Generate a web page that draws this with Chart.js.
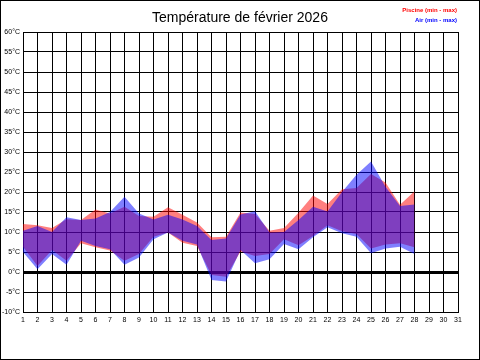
<!DOCTYPE html>
<html>
<head>
<meta charset="utf-8">
<script src="https://cdn.jsdelivr.net/npm/chart.js@4/dist/chart.umd.min.js"></script>
<style>
  body { margin: 0; background: #fff; }
  canvas { display: block; }
</style>
</head>
<body>
<canvas id="chart" width="480" height="360"></canvas>
<script>
const chartTitle = "Température de février 2026";
const poolLabel = "Piscine (min - max)";
const airLabel = "Air (min - max)";

const days = [1, 2, 3, 4, 5, 6, 7, 8, 9, 10, 11, 12, 13, 14, 15, 16, 17, 18, 19, 20, 21, 22, 23, 24, 25, 26, 27, 28];
const poolMax = [12, 11.7, 11, 13.2, 13, 15.6, 14.6, 16.3, 14, 13.8, 16.2, 14.3, 12.4, 8.7, 8.8, 14.9, 14.5, 10.3, 11, 14.8, 19.1, 17, 20.7, 21, 24.5, 22.4, 16.8, 20.2];
const poolMin = [6.3, 1.5, 5.5, 2.8, 7.2, 6.2, 5.4, 2.8, 4.5, 8.8, 9.9, 7.3, 6.5, -0.75, -1.2, 5.1, 4, 4.5, 8.2, 6.7, 9, 11.7, 10.2, 9.5, 5.9, 6.9, 7.2, 6.2];
const airMax = [10.3, 11.5, 10, 13.7, 13, 13.4, 15, 18.8, 14.6, 13.1, 14.3, 13.1, 11.5, 8, 8.4, 14.4, 15.2, 9.9, 10, 13, 16.3, 15.1, 20, 24.3, 27.6, 21.3, 16.5, 16.9];
const airMin = [5, 0.7, 4.5, 1.8, 7.8, 6.5, 5.7, 1.8, 3.6, 8.2, 9.9, 7.8, 6.9, -2, -2.4, 5.5, 2.2, 3.2, 7, 5.7, 8.7, 11.2, 9.7, 8.8, 4.7, 5.9, 6.3, 4.5];

const xMin = 1, xMax = 31;
const yMin = -10, yMax = 60, yStep = 5;

function points(values) {
  return days.map((d, i) => ({ x: d, y: values[i] }));
}

const decor = {
  id: "decor",
  afterDraw(chart) {
    const ctx = chart.ctx;
    ctx.save();
    ctx.fillStyle = "#000";
    ctx.font = '14px "Liberation Sans", Arial, sans-serif';
    ctx.textAlign = "center";
    ctx.textBaseline = "middle";
    ctx.fillText(chartTitle, 240, 18);

    ctx.font = 'bold 6px "Liberation Sans", Arial, sans-serif';
    ctx.textAlign = "right";
    ctx.fillStyle = "#ff0000";
    ctx.fillText(poolLabel, 457, 10);
    ctx.fillStyle = "#0000ff";
    ctx.fillText(airLabel, 457, 20);

    ctx.strokeStyle = "#000";
    ctx.lineWidth = 1;
    ctx.strokeRect(0.5, 0.5, 479, 359);
    ctx.restore();
  }
};

const tickFont = { family: '"Liberation Sans", Arial, sans-serif', size: 7 };

new Chart(document.getElementById("chart"), {
  type: "line",
  data: {
    datasets: [
      { label: airLabel, data: points(airMax), fill: "+1", backgroundColor: "rgba(0,0,255,0.5)", borderWidth: 0, pointRadius: 0 },
      { label: airLabel, data: points(airMin), fill: false, borderWidth: 0, pointRadius: 0 },
      { label: poolLabel, data: points(poolMax), fill: "+1", backgroundColor: "rgba(255,0,0,0.5)", borderWidth: 0, pointRadius: 0 },
      { label: poolLabel, data: points(poolMin), fill: false, borderWidth: 0, pointRadius: 0 }
    ]
  },
  options: {
    responsive: false,
    animation: false,
    devicePixelRatio: 1,
    layout: { padding: { left: 0, right: 22, top: 32, bottom: 0 } },
    plugins: { legend: { display: false }, tooltip: { enabled: false }, title: { display: false } },
    scales: {
      x: {
        type: "linear",
        min: xMin,
        max: xMax,
        ticks: { stepSize: 1, color: "#000", font: tickFont, padding: 4, maxRotation: 0, autoSkip: false },
        grid: { color: "#000", lineWidth: 1, drawTicks: false },
        border: { color: "#000", width: 1 },
        afterFit(scale) { scale.height = 48; }
      },
      y: {
        min: yMin,
        max: yMax,
        ticks: { stepSize: yStep, color: "#000", font: tickFont, padding: 3, callback: v => v + "°C" },
        grid: { color: "#000", lineWidth: c => (c.tick && c.tick.value === 0 ? 3 : 1), drawTicks: false },
        border: { color: "#000", width: 1 },
        afterFit(scale) { scale.width = 23; }
      }
    }
  },
  plugins: [decor]
});
</script>
</body>
</html>
